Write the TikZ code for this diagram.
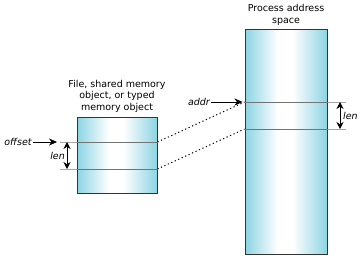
\documentclass[tikz,border=0pt]{standalone}
\usepackage{fontspec}
\setmainfont{DejaVu Sans}
\usetikzlibrary{positioning, calc, arrows.meta}

\definecolor{memblue}{RGB}{140,212,228}
\pgfdeclarehorizontalshading{memshade}{100bp}{
  color(0bp)=(memblue); color(25bp)=(memblue); color(45bp)=(white);
  color(54bp)=(white); color(75bp)=(memblue); color(100bp)=(memblue)}

\begin{document}
\begin{tikzpicture}[x=1pt, y=-1pt,
    region/.style={draw=black!80, line width=1pt, shading=memshade, inner sep=0pt},
    title/.style={align=center, font=\fontsize{9.5}{11.5}\selectfont, inner sep=0pt},
    lbl/.style={font=\fontsize{9.5}{10}\selectfont\itshape, inner sep=1pt},
    divider/.style={draw=black!55, line width=0.8pt},
    tick/.style={draw=black!35, line width=0.8pt},
    arrow/.style={-{Stealth[length=8pt, width=7pt]}, line width=0.6pt},
    span/.style={{Stealth[length=7pt, width=7pt]}-{Stealth[length=7pt, width=7pt]}, line width=0.8pt},
    map/.style={dash pattern=on 1.2pt off 2.6pt, line width=1pt}
]
\useasboundingbox (0,0) rectangle (363,259);

% the object being mapped
\node[region, minimum width=80pt, minimum height=76pt] (file) at (117,155) {};
\node[title, above=4pt of file] (filelbl) {File, shared memory\\object, or typed\\memory object};

% the address space of the process
\node[region, minimum width=82pt, minimum height=224pt] (proc) at (286,142) {};
\node[title, above=4pt of proc] (proclbl) {Process address\\space};

% mapped range in the object
\coordinate (fa) at (file.west |- 0,142);
\coordinate (fb) at (file.west |- 0,169);
\coordinate (fa2) at (file.east |- 0,142);
\coordinate (fb2) at (file.east |- 0,169);
\draw[divider] (fa) -- (fa2);
\draw[divider] (fb) -- (fb2);
\coordinate (ta) at (60,142);
\coordinate (tb) at (60,169);
\draw[tick] (ta) -- (fa);
\draw[tick] (tb) -- (fb);
\coordinate (la) at (67,142);
\coordinate (lb) at (67,169);
\draw[span] (la) -- (lb);
\node[lbl, left=1pt of $(la)!0.5!(lb)$] (flen) {len};
\node[lbl] (offset) at (18,142) {offset};
\draw[arrow] (offset.east) -- (57,142) coordinate (offtip);

% mapped range in the process
\coordinate (pa) at (proc.west |- 0,102);
\coordinate (pb) at (proc.west |- 0,129);
\coordinate (pa2) at (proc.east |- 0,102);
\coordinate (pb2) at (proc.east |- 0,129);
\draw[divider] (pa) -- (pa2);
\draw[divider] (pb) -- (pb2);
\coordinate (ua) at (346,102);
\coordinate (ub) at (346,129);
\draw[tick] (pa2) -- (ua);
\draw[tick] (pb2) -- (ub);
\coordinate (ra) at (340,102);
\coordinate (rb) at (340,129);
\draw[span] (ra) -- (rb);
\node[lbl, right=2pt of $(ra)!0.5!(rb)$] (plen) {len};
\node[lbl] (addr) at (199,102) {addr};
\draw[arrow] (addr.east) -- ($(pa)+(-2,0)$);

% the mapping
\draw[map] (fa2) -- (pa);
\draw[map] (fb2) -- (pb);

\end{tikzpicture}
\end{document}
